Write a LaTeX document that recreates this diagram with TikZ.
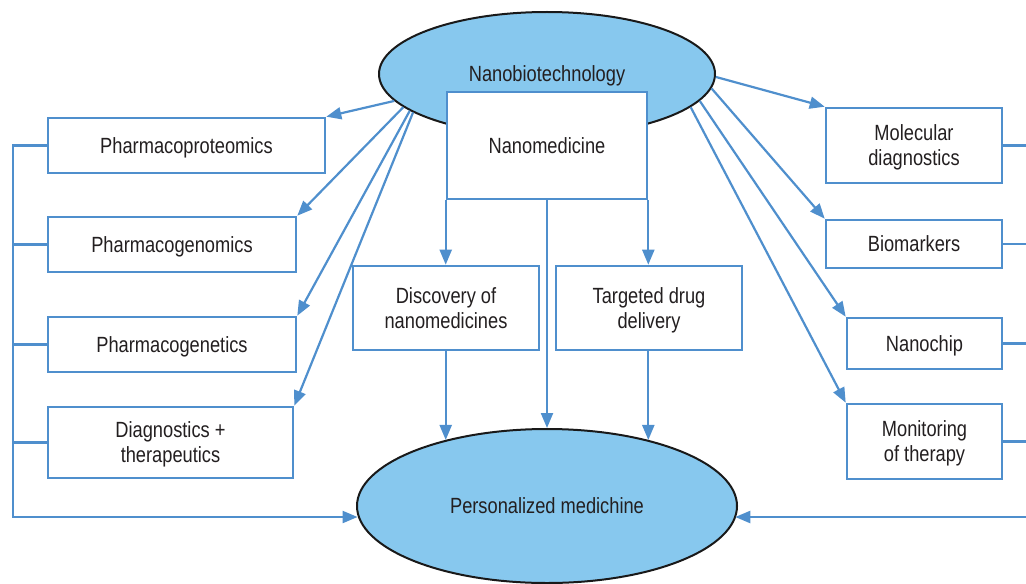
\documentclass[tikz,border=0pt]{standalone}
\usepackage{fontspec}
\setmainfont{Liberation Sans}[FakeStretch=0.83]
\usetikzlibrary{shapes.geometric,arrows.meta}
\definecolor{lineblue}{HTML}{4F8FCD}
\definecolor{ovalblue}{HTML}{87C8EE}
\definecolor{textgray}{HTML}{231F20}
\tikzstyle{every node}=[font=\fontsize{11}{12.5}\selectfont,text=textgray]
\tikzstyle{box}=[draw=lineblue,line width=1.3pt,fill=white,align=center,inner sep=0pt,text depth=0pt]
\tikzstyle{oval}=[ellipse,draw=black!90,line width=1pt,fill=ovalblue,inner sep=0pt,text depth=0pt]
\tikzstyle{link}=[draw=lineblue,line width=1.1pt,-{Triangle[length=7.5pt,width=6pt]}]
\tikzstyle{bus}=[draw=lineblue,line width=1.1pt]

\begin{document}
\begin{tikzpicture}[x=0.5pt,y=-0.5pt]
\useasboundingbox (0,0) rectangle (1026,583);

\node[oval,minimum width=168pt,minimum height=62pt] (bio) at (547,74) {Nanobiotechnology};
\node[oval,minimum width=190pt,minimum height=77pt] (pers) at (547,506) {Personalized medichine};

\node[box,minimum width=100pt,minimum height=53.5pt] (nanomed) at (547,145.5) {Nanomedicine};
\node[box,minimum width=93pt,minimum height=42pt] (disc) at (446,308) {Discovery of\\nanomedicines};
\node[box,minimum width=93pt,minimum height=42pt] (target) at (649,308) {Targeted drug\\delivery};

\node[box,minimum width=138.5pt,minimum height=27.5pt] (pprot) at (186.5,145.5) {Pharmacoproteomics};
\node[box,minimum width=124pt,minimum height=27.5pt] (pgenom) at (172,244.5) {Pharmacogenomics};
\node[box,minimum width=124pt,minimum height=27.5pt] (pgenet) at (172,344.5) {Pharmacogenetics};
\node[box,minimum width=122.5pt,minimum height=35.5pt] (diag) at (170.5,442.5) {Diagnostics +\\therapeutics};

\node[box,minimum width=88pt,minimum height=37.5pt] (molec) at (914,145.5) {Molecular\\diagnostics};
\node[box,minimum width=88pt,minimum height=24pt] (biom) at (914,244) {Biomarkers};
\node[box,minimum width=77.5pt,minimum height=25.5pt] (chip) at (924.5,343.5) {Nanochip};
\node[box,minimum width=77.5pt,minimum height=37.5pt] (monit) at (924.5,441.5) {Monitoring\\of therapy};

\coordinate (lb) at (13,517);
\coordinate (rb) at (1026,517);

\draw[link] (bio.190) -- (pprot.north east);
\draw[link] (bio.193) -- (pgenom.north east);
\draw[link] (bio.195) -- (pgenet.north east);
\draw[link] (bio.196.5) -- (diag.north east);

\draw[link] (bio.359) -- (molec.north west);
\draw[link] (bio.355) -- (biom.north west);
\draw[link] (bio.350) -- (chip.north west);
\draw[link] (bio.347) -- (monit.north west);

\draw[link] (nanomed.south west) -- (nanomed.south west |- disc.north);
\draw[link] (nanomed.south east) -- (nanomed.south east |- target.north);
\draw[link] (nanomed.south) -- (pers.north);
\draw[link] (disc.south -| nanomed.south west) -- (nanomed.south west |- pers.147);
\draw[link] (target.south -| nanomed.south east) -- (nanomed.south east |- pers.33);

\draw[link] (pprot.west) -| (lb) -- (lb -| pers.183.35);
\foreach \n in {pgenom,pgenet,diag}
  \draw[bus] (\n.west) -- (\n.west -| lb);

\foreach \n in {molec,biom,chip,monit}
  \draw[bus] (\n.east) -- (\n.east -| rb);
\draw[link] (rb) -- (rb -| pers.356.65);

\end{tikzpicture}
\end{document}
